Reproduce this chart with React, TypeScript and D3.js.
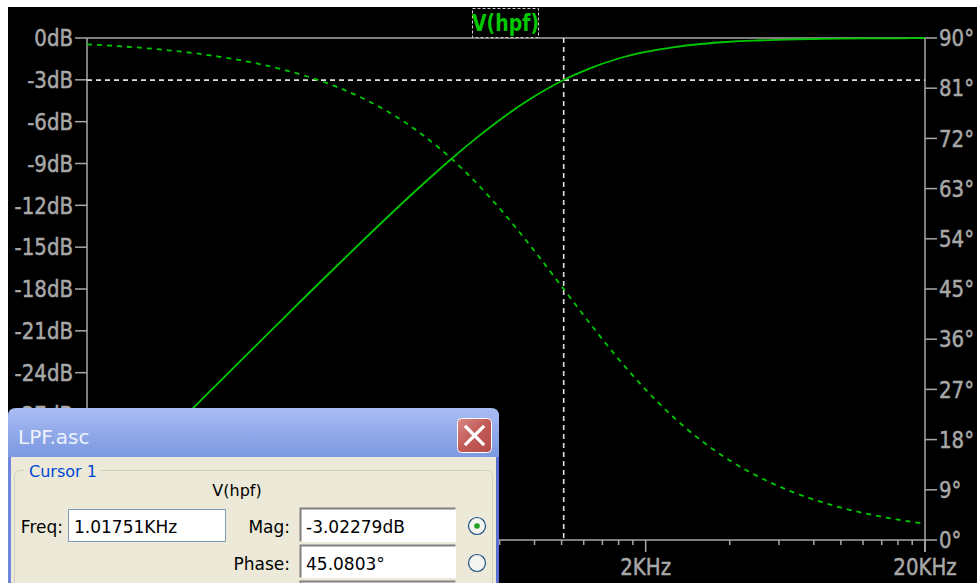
import React from "react";
import * as d3 from "d3";

// Frequency (Hz), magnitude (dB) and phase (deg)
const FREQ = [20, 25, 32, 40, 50, 63, 80, 100, 125, 160, 200, 250, 315, 400, 500, 630, 800, 1000, 1250, 1600, 2000, 2500, 3150, 4000, 5000, 6300, 8000, 10000, 12500, 16000, 20000];
const MAG_DB = [-34.13, -32.19, -30.05, -28.11, -26.18, -24.18, -22.11, -20.19, -18.27, -16.17, -14.29, -12.44, -10.58, -8.73, -7.11, -5.57, -4.18, -3.08, -2.21, -1.47, -1.0, -0.67, -0.43, -0.27, -0.18, -0.11, -0.07, -0.04, -0.03, -0.02, -0.01];
const PHASE_DEG = [88.87, 88.59, 88.2, 87.75, 87.19, 86.45, 85.5, 84.38, 82.99, 81.06, 78.87, 76.19, 72.79, 68.53, 63.82, 58.22, 51.81, 45.48, 39.13, 32.44, 26.95, 22.14, 17.89, 14.27, 11.5, 9.17, 7.25, 5.81, 4.65, 3.64, 2.91];

const DB_TICKS = [0, -3, -6, -9, -12, -15, -18, -21, -24, -27, -30, -33, -36];
const DEG_TICKS = [90, 81, 72, 63, 54, 45, 36, 27, 18, 9, 0];
const X_MAJOR = [20, 200, 2000, 20000];
const X_MAJOR_LABELS = ["20Hz", "200Hz", "2KHz", "20KHz"];
const X_MINOR = [40, 60, 80, 100, 120, 140, 160, 180, 400, 600, 800, 1000, 1200, 1400, 1600, 1800, 4000, 6000, 8000, 10000, 12000, 14000, 16000, 18000];

const CURSOR_FREQ = 1017.51;
const CURSOR_DB = -3.02279;

const W = 977;
const H = 583;
const L = 87, R = 925, T = 38, B = 540;
// cursor dialog box (covers part of the plot)
const DLG = { x0: 8, y0: 408, x1: 499 };
const GREEN = "#00c800";
const GRAY = "#a8a8a8";
const AXIS_FONT = "'DejaVu Sans', sans-serif";
const UI_FONT = "Tahoma, 'DejaVu Sans', 'Noto Sans', sans-serif";

function AxisText(props: { x: number; y: number; anchor: string; children: string }) {
  return (
    <text
      transform={`translate(${props.x},${props.y}) scale(0.86,1)`}
      dy="0.36em"
      textAnchor={props.anchor}
      fill={GRAY}
      stroke={GRAY}
      strokeWidth={0.5}
      fontFamily={AXIS_FONT}
      fontSize={23}
    >
      {props.children}
    </text>
  );
}

const hidden = (px: number, py: number) => px < DLG.x1 + 10 && py > DLG.y0 + 12;

export default function App() {
  const x = d3.scaleLog().domain([20, 20000]).range([L, R]);
  const yL = d3.scaleLinear().domain([-36, 0]).range([B, T]);
  const yR = d3.scaleLinear().domain([0, 90]).range([B, T]);

  const magLine = d3
    .line<number>()
    .x((_, i) => x(FREQ[i]))
    .y((d) => yL(d))
    .curve(d3.curveMonotoneX)(MAG_DB) as string;
  const phaseLine = d3
    .line<number>()
    .x((_, i) => x(FREQ[i]))
    .y((d) => yR(d))
    .curve(d3.curveMonotoneX)(PHASE_DEG) as string;

  const cx = x(CURSOR_FREQ);
  const cy = yL(CURSOR_DB);

  return (
    <svg
      width={W}
      height={H}
      style={{ position: "absolute", left: 0, top: 0, display: "block" }}
    >
      <defs>
        <linearGradient id="titleGrad" x1="0" y1="0" x2="0" y2="1">
          <stop offset="0" stopColor="#a9bdf3" />
          <stop offset="0.25" stopColor="#7f9be3" />
          <stop offset="0.75" stopColor="#7894e0" />
          <stop offset="1" stopColor="#88a3ea" />
        </linearGradient>
        <linearGradient id="closeGrad" x1="0" y1="0" x2="1" y2="1">
          <stop offset="0" stopColor="#d88a86" />
          <stop offset="0.5" stopColor="#c25a57" />
          <stop offset="1" stopColor="#b04a48" />
        </linearGradient>
        <clipPath id="aboveDialog">
          <rect x={0} y={0} width={W} height={DLG.y0} />
        </clipPath>
      </defs>
      <rect x={0} y={0} width={W} height={H} fill="#ffffff" />
      <rect x={8} y={7} width={W - 8} height={H - 7} fill="#000000" />

      {/* frame */}
      <g stroke={GRAY} strokeWidth={1.5} fill="none">
        <line x1={L} y1={T} x2={R} y2={T} />
        <line x1={L} y1={T} x2={L} y2={B} />
        <line x1={R} y1={T} x2={R} y2={B + 12} />
        <line x1={L} y1={B} x2={R} y2={B} />
      </g>

      {/* left axis */}
      {DB_TICKS.map((v) => (
        <line key={"lt" + v} x1={L - 12} x2={L} y1={yL(v)} y2={yL(v)} stroke={GRAY} strokeWidth={1.5} />
      ))}
      <g clipPath="url(#aboveDialog)">
        {DB_TICKS.filter((v) => !hidden(L - 14, yL(v))).map((v) => (
          <AxisText key={"l" + v} x={L - 14} y={yL(v)} anchor="end">
            {v + "dB"}
          </AxisText>
        ))}
      </g>

      {/* right axis */}
      {DEG_TICKS.map((v) => (
        <g key={"r" + v}>
          <line x1={R} x2={R + 12} y1={yR(v)} y2={yR(v)} stroke={GRAY} strokeWidth={1.5} />
          <AxisText x={R + 14} y={yR(v)} anchor="start">
            {v + "°"}
          </AxisText>
        </g>
      ))}

      {/* bottom axis */}
      {X_MINOR.map((f) => (
        <line key={"m" + f} x1={x(f)} x2={x(f)} y1={B} y2={B + 5} stroke={GRAY} strokeWidth={1.5} />
      ))}
      {X_MAJOR.map((f, i) => (
        <g key={"M" + f}>
          <line x1={x(f)} x2={x(f)} y1={B} y2={B + 12} stroke={GRAY} strokeWidth={1.5} />
          {!hidden(x(f), B + 27) && (
            <AxisText x={x(f)} y={B + 27} anchor="middle">
              {X_MAJOR_LABELS[i]}
            </AxisText>
          )}
        </g>
      ))}

      {/* cursor */}
      <line x1={L} x2={R} y1={cy} y2={cy} stroke="#e0e0e0" strokeWidth={1.6} strokeDasharray="5,4" />
      <line x1={cx} x2={cx} y1={T} y2={B} stroke="#e0e0e0" strokeWidth={1.6} strokeDasharray="5,4" />

      {/* curves */}
      <path d={phaseLine} fill="none" stroke={GREEN} strokeWidth={1.8} strokeDasharray="5,5" />
      <path d={magLine} fill="none" stroke={GREEN} strokeWidth={1.8} />

      {/* title */}
      <rect x={472.5} y={8.5} width={66} height={29} fill="#000" stroke="#d0d0d0" strokeWidth={1} strokeDasharray="3,2" />
      <text
        transform="translate(505.5,31) scale(0.9,1.1)"
        textAnchor="middle"
        fill={GREEN}
        fontFamily={AXIS_FONT}
        fontWeight="bold"
        fontSize={21}
      >
        V(hpf)
      </text>

      {/* cursor dialog */}
      <g>
        <path
          d={`M${DLG.x0},${H} L${DLG.x0},416 Q${DLG.x0},${DLG.y0} 16,${DLG.y0} L491,${DLG.y0} Q${DLG.x1},${DLG.y0} ${DLG.x1},416 L${DLG.x1},${H} Z`}
          fill="url(#titleGrad)"
        />
        <rect x={11} y={457} width={485} height={H - 457} fill="#ece9d8" />
        <text x={18} y={444} fill="#eef1fb" fontFamily={UI_FONT} fontSize={20}>
          LPF.asc
        </text>
        <rect x={457.5} y={418.5} width={34} height={34} rx={4} fill="url(#closeGrad)" stroke="#ffffff" strokeWidth={1} />
        <g stroke="#ffffff" strokeWidth={3.2} strokeLinecap="square">
          <line x1={466} y1={427} x2={483} y2={444} />
          <line x1={483} y1={427} x2={466} y2={444} />
        </g>

        <rect x={14.5} y={470.5} width={478} height={140} rx={5} fill="none" stroke="#d0d0bf" strokeWidth={1} />
        <rect x={24} y={462} width={76} height={16} fill="#ece9d8" />
        <text x={29} y={477} fill="#0046d5" fontFamily={UI_FONT} fontSize={16}>
          Cursor 1
        </text>
        <text x={237} y={496} textAnchor="middle" fill="#000" fontFamily={UI_FONT} fontSize={16}>
          V(hpf)
        </text>

        <text x={63} y={533} textAnchor="end" fill="#000" fontFamily={UI_FONT} fontSize={17}>
          Freq:
        </text>
        <rect x={68.5} y={509.5} width={157} height={32} fill="#ffffff" stroke="#7f9db9" strokeWidth={1} />
        <text x={74} y={533} fill="#000" fontFamily={UI_FONT} fontSize={17}>
          1.01751KHz
        </text>

        <text x={290} y={533} textAnchor="end" fill="#000" fontFamily={UI_FONT} fontSize={17}>
          Mag:
        </text>
        <rect x={300} y={508} width={156} height={34} fill="#ffffff" />
        <path d="M300.5,541.5 L300.5,508.5 L455.5,508.5" fill="none" stroke="#808080" strokeWidth={2} />
        <text x={306} y={533} fill="#000" fontFamily={UI_FONT} fontSize={17}>
          -3.02279dB
        </text>
        <circle cx={477} cy={526} r={8.5} fill="#f4f4f0" stroke="#1c5180" strokeWidth={1.2} />
        <circle cx={477} cy={526} r={2.8} fill="#21a121" />

        <text x={290} y={570} textAnchor="end" fill="#000" fontFamily={UI_FONT} fontSize={17}>
          Phase:
        </text>
        <rect x={300} y={545} width={156} height={33} fill="#ffffff" />
        <path d="M300.5,577.5 L300.5,545.5 L455.5,545.5" fill="none" stroke="#808080" strokeWidth={2} />
        <text x={306} y={570} fill="#000" fontFamily={UI_FONT} fontSize={17}>
          45.0803°
        </text>
        <circle cx={477} cy={563} r={8.5} fill="#f4f4f0" stroke="#1c5180" strokeWidth={1.2} />

        <rect x={300} y={581} width={156} height={10} fill="#ffffff" />
        <path d="M300.5,590 L300.5,581.5 L455.5,581.5" fill="none" stroke="#808080" strokeWidth={2} />

        <rect x={496} y={457} width={3} height={H - 457} fill="#5a6fd0" />
        <rect x={8} y={457} width={3} height={H - 457} fill="#6f86db" />
      </g>
    </svg>
  );
}
